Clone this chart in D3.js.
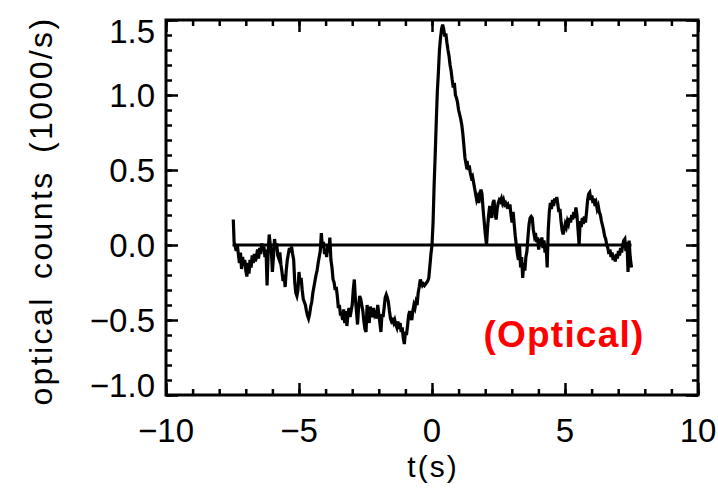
<!DOCTYPE html>
<html>
<head>
<meta charset="utf-8">
<script src="https://cdn.jsdelivr.net/npm/d3@7"></script>
<style>
  body { margin: 0; background: #fff; }
  text { font-family: "Liberation Sans", Arial, sans-serif; }
</style>
</head>
<body>
<div id="chart"></div>
<script>
// light curve: time (s) and optical counts (1000/s)
var times = [
  -7.47,-7.44,-7.40,-7.36,-7.32,-7.28,-7.24,-7.20,-7.16,-7.12,-7.08,-7.04,-7.00,-6.96,-6.92,-6.88,
  -6.84,-6.80,-6.76,-6.72,-6.68,-6.64,-6.60,-6.56,-6.52,-6.48,-6.44,-6.40,-6.36,-6.32,-6.28,-6.24,
  -6.20,-6.16,-6.12,-6.08,-6.04,-6.00,-5.96,-5.92,-5.88,-5.84,-5.80,-5.76,-5.72,-5.68,-5.64,-5.60,
  -5.56,-5.52,-5.48,-5.44,-5.40,-5.36,-5.32,-5.28,-5.24,-5.20,-5.16,-5.12,-5.08,-5.04,-5.00,-4.96,
  -4.92,-4.88,-4.84,-4.80,-4.76,-4.72,-4.68,-4.64,-4.60,-4.56,-4.52,-4.48,-4.44,-4.40,-4.36,-4.32,
  -4.28,-4.24,-4.20,-4.16,-4.12,-4.08,-4.04,-4.00,-3.96,-3.92,-3.88,-3.84,-3.80,-3.76,-3.72,-3.68,
  -3.64,-3.60,-3.56,-3.52,-3.48,-3.44,-3.40,-3.36,-3.32,-3.28,-3.24,-3.20,-3.16,-3.12,-3.08,-3.04,
  -3.00,-2.96,-2.92,-2.88,-2.84,-2.80,-2.76,-2.72,-2.68,-2.64,-2.60,-2.56,-2.52,-2.48,-2.44,-2.40,
  -2.36,-2.32,-2.28,-2.24,-2.20,-2.16,-2.12,-2.08,-2.04,-2.00,-1.96,-1.92,-1.88,-1.84,-1.80,-1.76,
  -1.72,-1.68,-1.64,-1.60,-1.56,-1.52,-1.48,-1.44,-1.40,-1.36,-1.32,-1.28,-1.24,-1.20,-1.16,-1.12,
  -1.08,-1.04,-1.00,-0.96,-0.92,-0.88,-0.84,-0.80,-0.76,-0.72,-0.68,-0.64,-0.60,-0.56,-0.52,-0.48,
  -0.44,-0.40,-0.36,-0.32,-0.28,-0.24,-0.20,-0.16,-0.12,-0.08,-0.04,0.00,0.04,0.08,0.12,0.16,
  0.20,0.24,0.28,0.32,0.36,0.40,0.44,0.48,0.52,0.56,0.60,0.64,0.68,0.72,0.76,0.80,
  0.84,0.88,0.92,0.96,1.00,1.04,1.08,1.12,1.16,1.20,1.24,1.28,1.32,1.36,1.40,1.44,
  1.48,1.52,1.56,1.60,1.64,1.68,1.72,1.76,1.80,1.84,1.88,1.92,1.96,2.00,2.05,2.09,
  2.13,2.17,2.21,2.25,2.29,2.33,2.37,2.41,2.45,2.49,2.53,2.57,2.61,2.65,2.69,2.73,
  2.77,2.81,2.85,2.89,2.93,2.97,3.01,3.05,3.09,3.13,3.17,3.21,3.25,3.29,3.33,3.37,
  3.41,3.45,3.49,3.53,3.57,3.61,3.65,3.69,3.73,3.77,3.81,3.85,3.89,3.93,3.97,4.01,
  4.05,4.09,4.13,4.17,4.21,4.25,4.29,4.33,4.37,4.41,4.45,4.49,4.53,4.57,4.61,4.65,
  4.69,4.73,4.77,4.81,4.85,4.89,4.93,4.97,5.01,5.05,5.09,5.13,5.17,5.21,5.25,5.29,
  5.33,5.37,5.41,5.45,5.49,5.53,5.57,5.61,5.65,5.69,5.73,5.77,5.81,5.85,5.89,5.93,
  5.97,6.01,6.05,6.09,6.13,6.17,6.21,6.25,6.29,6.33,6.37,6.41,6.45,6.49,6.53,6.57,
  6.61,6.65,6.69,6.73,6.77,6.81,6.85,6.89,6.93,6.97,7.01,7.05,7.09,7.13,7.17,7.21,
  7.25,7.29,7.33,7.37,7.41,7.45,7.50
];
var counts = [
  0.17,0.02,-0.01,-0.04,0.00,-0.06,-0.12,-0.05,-0.16,-0.08,-0.14,-0.10,-0.17,-0.21,-0.12,-0.19,
  -0.10,-0.15,-0.07,-0.12,-0.06,-0.11,-0.08,-0.03,-0.09,-0.02,-0.06,0.01,-0.04,-0.01,-0.08,-0.03,
  -0.27,-0.05,0.07,0.00,-0.04,-0.18,-0.08,0.04,-0.02,0.01,-0.07,-0.09,-0.05,-0.13,-0.18,-0.24,
  -0.20,-0.28,-0.17,-0.10,-0.06,-0.02,-0.05,-0.01,-0.06,-0.10,-0.25,-0.32,-0.34,-0.30,-0.18,-0.26,
  -0.22,-0.30,-0.36,-0.38,-0.40,-0.44,-0.47,-0.49,-0.46,-0.41,-0.38,-0.32,-0.28,-0.24,-0.20,-0.17,
  -0.12,-0.08,-0.04,0.08,-0.02,0.02,-0.06,-0.03,-0.08,0.00,-0.05,0.05,-0.10,-0.15,-0.23,-0.25,
  -0.30,-0.28,-0.34,-0.42,-0.40,-0.47,-0.45,-0.50,-0.43,-0.52,-0.44,-0.54,-0.46,-0.42,-0.48,-0.44,
  -0.40,-0.30,-0.23,-0.36,-0.44,-0.53,-0.42,-0.34,-0.36,-0.40,-0.44,-0.51,-0.56,-0.58,-0.40,-0.48,
  -0.52,-0.41,-0.46,-0.48,-0.42,-0.46,-0.44,-0.49,-0.40,-0.46,-0.52,-0.58,-0.46,-0.48,-0.42,-0.35,
  -0.33,-0.35,-0.38,-0.44,-0.49,-0.51,-0.50,-0.52,-0.50,-0.53,-0.55,-0.51,-0.56,-0.52,-0.58,-0.55,
  -0.62,-0.66,-0.58,-0.60,-0.54,-0.47,-0.44,-0.48,-0.50,-0.44,-0.40,-0.42,-0.38,-0.40,-0.32,-0.28,
  -0.23,-0.25,-0.27,-0.26,-0.27,-0.26,-0.25,-0.24,-0.22,-0.14,-0.06,0.00,0.15,0.40,0.60,0.82,
  1.02,1.15,1.30,1.38,1.44,1.47,1.44,1.39,1.41,1.35,1.30,1.26,1.20,1.16,1.10,1.05,
  1.08,1.00,0.98,0.95,0.90,0.87,0.84,0.80,0.74,0.66,0.58,0.54,0.56,0.50,0.53,0.48,
  0.45,0.46,0.42,0.38,0.34,0.30,0.32,0.28,0.33,0.37,0.34,0.24,0.16,0.08,0.00,0.12,
  0.20,0.26,0.22,0.18,0.28,0.30,0.22,0.17,0.24,0.28,0.30,0.29,0.31,0.28,0.30,0.27,
  0.28,0.26,0.27,0.24,0.27,0.20,0.15,0.22,0.14,0.06,0.00,-0.06,-0.10,0.00,-0.15,-0.08,
  -0.22,-0.12,-0.17,-0.08,-0.04,0.06,0.14,0.18,0.19,0.18,0.10,0.06,0.08,0.02,0.05,-0.03,
  0.04,0.00,0.05,-0.02,0.03,-0.05,0.00,-0.15,0.10,0.22,0.28,0.24,0.30,0.26,0.31,0.28,
  0.32,0.27,0.22,0.24,0.16,0.10,0.07,0.10,0.14,0.12,0.16,0.14,0.18,0.15,0.20,0.17,
  0.22,0.18,0.25,0.20,0.10,0.00,0.16,0.12,0.18,0.14,0.19,0.15,0.22,0.30,0.34,0.35,
  0.30,0.33,0.28,0.31,0.26,0.28,0.24,0.26,0.22,0.20,0.16,0.13,0.10,0.06,0.04,0.00,
  -0.02,-0.06,-0.03,-0.08,-0.05,-0.10,-0.07,-0.11,-0.06,-0.09,-0.04,-0.07,-0.02,-0.05,0.00,0.03,
  0.04,-0.04,0.02,-0.18,0.03,-0.08,-0.15
];
var zeroLineTimes = [-7.5, 7.5];
var zeroLineValue = 0;

var xTicks = [-10, -5, 0, 5, 10];
var xTickLabels = ["\u221210", "\u22125", "0", "5", "10"];
var yTicks = [-1.0, -0.5, 0.0, 0.5, 1.0, 1.5];
var yTickLabels = ["\u22121.0", "\u22120.5", "0.0", "0.5", "1.0", "1.5"];
var xTitle = "t(s)";
var yTitle = "optical counts (1000/s)";
var tag = "(Optical)";

var svgWidth = 718, svgHeight = 493;
var margin = { top: 20, right: 20, bottom: 98, left: 166 };
var width = svgWidth - margin.left - margin.right;
var height = svgHeight - margin.top - margin.bottom;

var svg = d3.select("#chart").append("svg")
    .attr("width", svgWidth)
    .attr("height", svgHeight);

var g = svg.append("g")
    .attr("transform", `translate(${margin.left}, ${margin.top})`);

var x = d3.scaleLinear().domain([-10, 10]).range([0, width]);
var y = d3.scaleLinear().domain([-1.0, 1.5]).range([height, 0]);

// ticks on all four sides, pointing in
var xMinor = d3.range(-10, 10.001, 1);
var yMinor = d3.range(-1.0, 1.5001, 0.1);

function tickAxis(axisFn, scale, vals, size, transform) {
  var a = g.append("g")
      .attr("transform", transform)
      .call(axisFn(scale).tickValues(vals).tickSizeInner(size).tickSizeOuter(0).tickFormat(""));
  a.select(".domain").remove();
  a.selectAll("line").attr("stroke", "#000").attr("stroke-width", 2.5);
  return a;
}
tickAxis(d3.axisBottom, x, xMinor, -6, `translate(0,${height})`);
tickAxis(d3.axisBottom, x, xTicks, -12, `translate(0,${height})`);
tickAxis(d3.axisTop, x, xMinor, -6, "translate(0,0)");
tickAxis(d3.axisTop, x, xTicks, -12, "translate(0,0)");
tickAxis(d3.axisLeft, y, yMinor, -6, "translate(0,0)");
tickAxis(d3.axisLeft, y, yTicks, -12, "translate(0,0)");
tickAxis(d3.axisRight, y, yMinor, -6, `translate(${width},0)`);
tickAxis(d3.axisRight, y, yTicks, -12, `translate(${width},0)`);

// frame
g.append("rect")
    .attr("x", 0).attr("y", 0)
    .attr("width", width).attr("height", height)
    .attr("fill", "none")
    .attr("stroke", "#000")
    .attr("stroke-width", 3);

// tick labels
g.selectAll(".xlab").data(xTicks).enter().append("text")
    .attr("x", d => x(d))
    .attr("y", height + 47)
    .attr("text-anchor", "middle")
    .attr("font-size", 33)
    .text((d, i) => xTickLabels[i]);

g.selectAll(".ylab").data(yTicks).enter().append("text")
    .attr("x", -11)
    .attr("y", function (d, i) {
      var shift = 0;
      if (i === 0) shift = -10;
      if (i === yTicks.length - 1) shift = 11;
      return y(d) + shift + 12;
    })
    .attr("text-anchor", "end")
    .attr("font-size", 33)
    .text((d, i) => yTickLabels[i]);

// titles
g.append("text")
    .attr("x", x(0) + 1)
    .attr("y", height + 82)
    .attr("text-anchor", "middle")
    .attr("font-size", 30)
    .attr("letter-spacing", 2)
    .text(xTitle);

svg.append("text")
    .attr("transform", "translate(52, 211) rotate(-90)")
    .attr("text-anchor", "middle")
    .attr("font-size", 32)
    .attr("letter-spacing", 2.4)
    .attr("word-spacing", 6)
    .text(yTitle);

// zero line
g.append("line")
    .attr("x1", x(zeroLineTimes[0])).attr("x2", x(zeroLineTimes[1]))
    .attr("y1", y(zeroLineValue)).attr("y2", y(zeroLineValue))
    .attr("stroke", "#000")
    .attr("stroke-width", 3);

// light curve
var data = times.map((t, i) => ({ t: t, v: counts[i] }));
var line = d3.line().x(d => x(d.t)).y(d => y(d.v));
g.append("path")
    .datum(data)
    .attr("d", line)
    .attr("fill", "none")
    .attr("stroke", "#000")
    .attr("stroke-width", 3.2)
    .attr("stroke-linejoin", "miter");

// red tag
g.append("text")
    .attr("x", 564 - margin.left)
    .attr("y", 347 - margin.top)
    .attr("text-anchor", "middle")
    .attr("font-family", "'Open Sans', sans-serif")
    .attr("font-weight", "bold")
    .attr("font-size", 37)
    .attr("letter-spacing", 1.2)
    .attr("fill", "#ff0000")
    .text(tag);
</script>
</body>
</html>
